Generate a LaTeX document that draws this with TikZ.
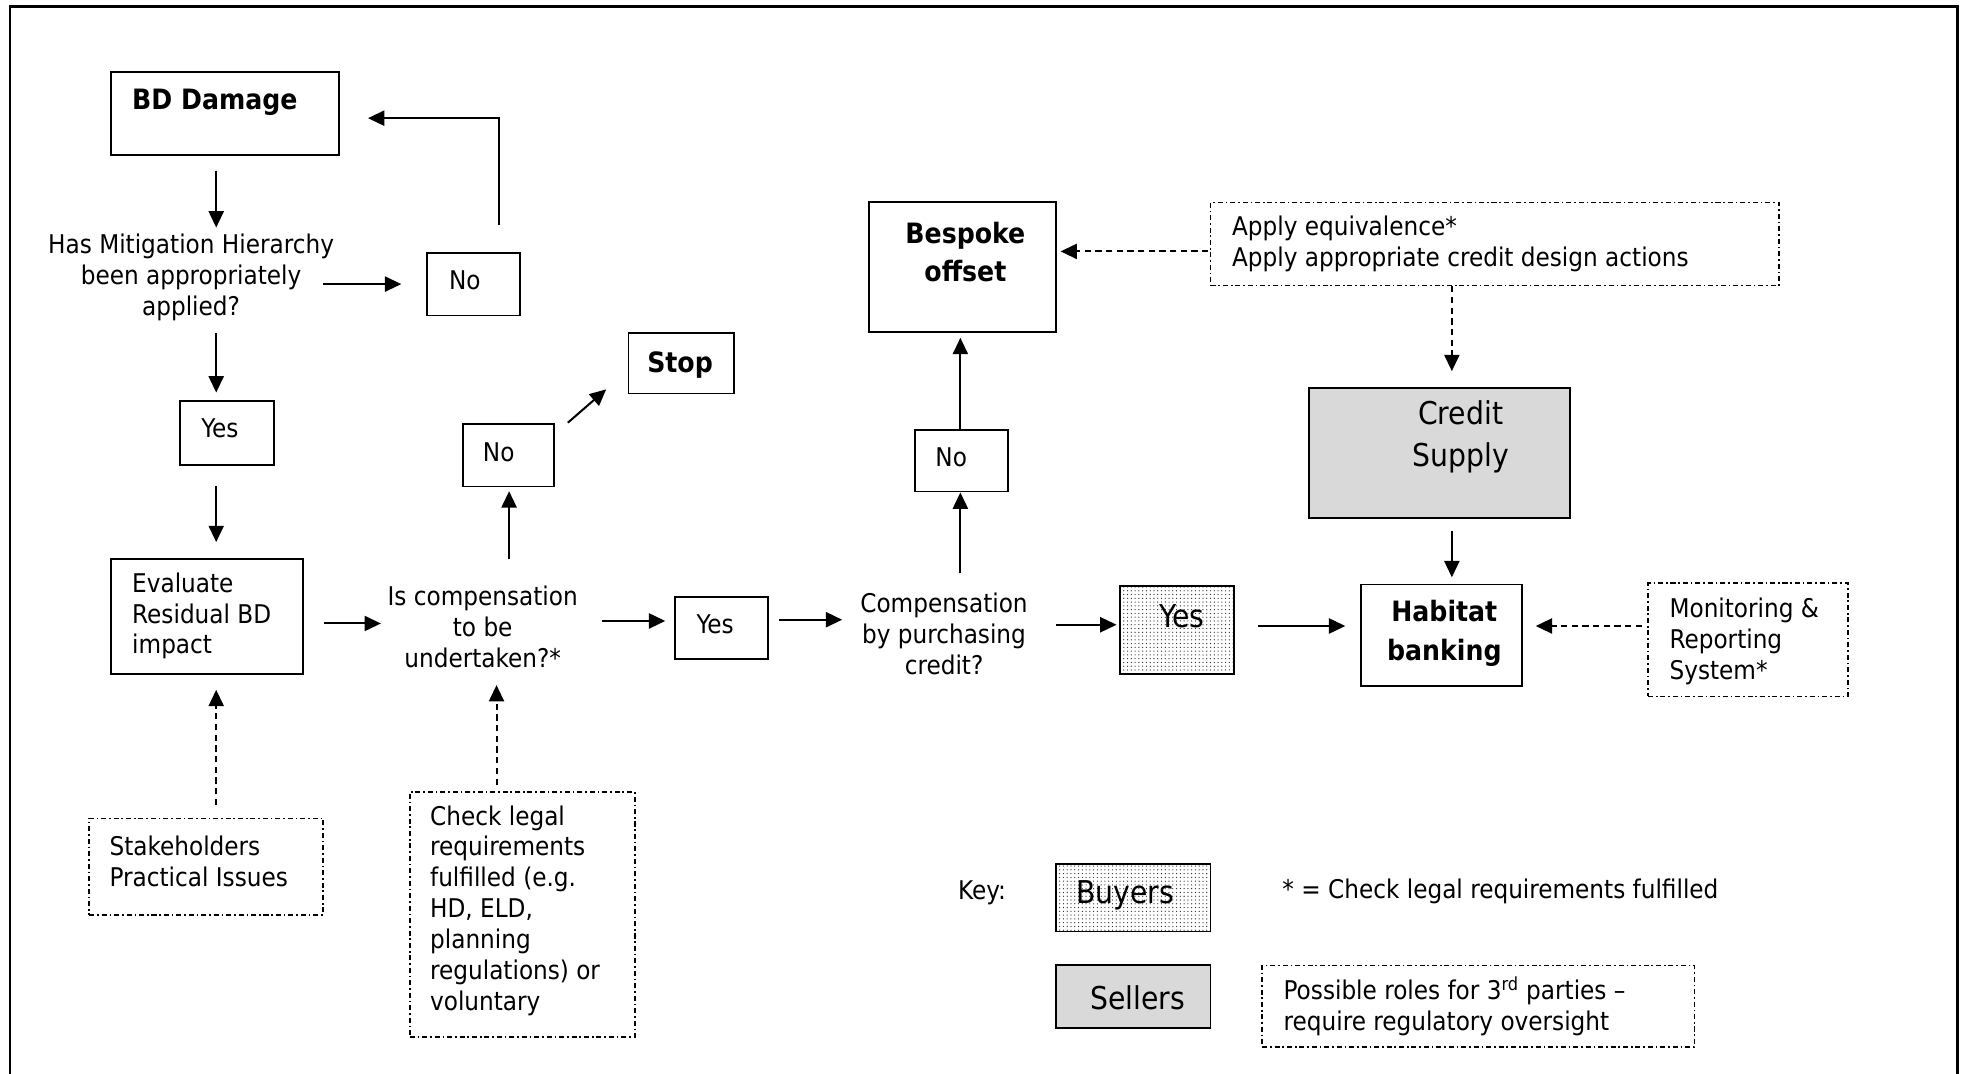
\documentclass[tikz,border=0pt]{standalone}
\usepackage{fontspec}
\setmainfont{DejaVu Sans Condensed}
\usetikzlibrary{arrows.meta,patterns,calc}
\begin{document}
\begin{tikzpicture}[x=1pt,y=-1pt,
  every node/.style={font=\fontsize{20.5}{24.6}\selectfont, inner sep=0pt},
  box/.style={draw, line width=1.5pt, rectangle},
  ddbox/.style={draw, line width=1.3pt, rectangle, dash pattern=on 4pt off 2.3pt on 1.3pt off 2.3pt},
  seller/.style={box, fill=black!15},
  buyer/.style={box, pattern=dots, pattern color=black!85},
  arr/.style={line width=1.6pt, -{Triangle[length=13pt,width=12pt]}},
  darr/.style={arr, dash pattern=on 5pt off 3.5pt},
  big/.style={font=\fontsize{25}{33}\selectfont},
  bold/.style={font=\fontsize{22.3}{31}\selectfont\bfseries},
]
\useasboundingbox (0,0) rectangle (1568,854);
\draw[line width=2.2pt] (8,854) -- (8,5) -- (1557,5) -- (1557,854);

% boxes
\node[box, minimum width=182, minimum height=66] (bd) at (179,90) {};
\node[bold, anchor=west] (bdt) at (105,81) {BD Damage};
\node[align=center] (q1) at (152,221) {Has Mitigation Hierarchy\\been appropriately\\applied?};
\node[box, minimum width=74, minimum height=50] (nob1) at (377,226) {};
\node[anchor=west] (nobt1) at (357,223) {No};
\node[box, minimum width=75, minimum height=51] (yesb1) at (180.5,344.5) {};
\node[anchor=west] (yest1) at (160,341) {Yes};
\node[box, minimum width=153, minimum height=91] (evb) at (164.5,490.5) {};
\node[anchor=west, align=left] (evt) at (105,490) {Evaluate\\Residual BD\\impact};
\node[align=center] (q2) at (384,499) {Is compensation\\to be\\undertaken?*};
\node[box, minimum width=73, minimum height=50] (nob2) at (404.5,362) {};
\node[anchor=west] (nobt2) at (384,360) {No};
\node[box, minimum width=84, minimum height=48] (stopb) at (542,289) {};
\node[bold] (stopt) at (541,290) {Stop};
\node[box, minimum width=74, minimum height=49] (yesb2) at (574,499.5) {};
\node[anchor=west] (yest2) at (554,497) {Yes};
\node[align=center] (q3) at (751,504) {Compensation\\by purchasing\\credit?};
\node[box, minimum width=74, minimum height=49] (nob3) at (765,366.5) {};
\node[anchor=west] (nobt3) at (744,364) {No};
\node[box, minimum width=149, minimum height=103] (bespb) at (765.5,212.5) {};
\node[bold, align=center] (bespt) at (768,200.5) {Bespoke\\offset};
\node[ddbox, minimum width=452, minimum height=66] (applyb) at (1189,194) {};
\node[anchor=west, align=left] (applyt) at (980,194) {Apply equivalence*\\Apply appropriate credit design actions};
\node[seller, minimum width=208, minimum height=103] (creditb) at (1145,360.5) {};
\node[big, align=center] (creditt) at (1162,347.5) {Credit\\Supply};
\node[box, minimum width=128, minimum height=81] (habb) at (1147,505.5) {};
\node[bold, align=center] (habt) at (1149,503.5) {Habitat\\banking};
\node[ddbox, minimum width=159, minimum height=90] (monb) at (1390.5,509) {};
\node[anchor=west, align=left] (mont) at (1328,510.5) {Monitoring \&\\Reporting\\System*};
\node[buyer, minimum width=91, minimum height=70] (yesb3) at (936.5,501) {};
\node[big] (yest3) at (940,490) {Yes};
\node[ddbox, minimum width=186, minimum height=77] (stakeb) at (164,689.5) {};
\node[anchor=west, align=left] (staket) at (87,685.5) {Stakeholders\\Practical Issues};
\node[ddbox, minimum width=179, minimum height=195] (checkb) at (415.5,727.5) {};
\node[anchor=west, align=left] (checkt) at (342,724.5) {Check legal\\requirements\\fulfilled (e.g.\\HD, ELD,\\planning\\regulations) or\\voluntary};
% key
\node[anchor=west] (keyt) at (762,710) {Key:};
\node[buyer, minimum width=123, minimum height=54] (buyb) at (901.5,714) {};
\node[big] (buyt) at (895,712) {Buyers};
\node[anchor=west] (notet) at (1020,709) {* = Check legal requirements fulfilled};
\node[seller, minimum width=123, minimum height=50] (sellb) at (901.5,793) {};
\node[big] (sellt) at (905,794) {Sellers};
\node[ddbox, minimum width=344, minimum height=65] (possb) at (1176,800.5) {};
\node[anchor=west, align=left] (posst) at (1021,800.5) {Possible roles for 3\textsuperscript{rd} parties –\\require regulatory oversight};

% connectors
\draw[arr] ($(bd.south)+(-7,12)$) -- ($(q1.center)+(20,-40)$);
\draw[arr] ($(q1.center)+(20,44)$) -- ($(yesb1.north)+(-8.5,-6)$);
\draw[arr] ($(yesb1.south)+(-8.5,16)$) -- ($(evb.north)+(7.5,-13)$);
\draw[darr] ($(stakeb.north)+(8,-10)$) -- ($(evb.south)+(7.5,12)$);
\draw[arr] ($(q1.center)+(105,5)$) -- ($(nob1.west)+(-20,0)$);
\draw[arr] ($(nob1.north)+(20,-21)$) |- ($(bd.east)+(22,4)$);
\draw[arr] ($(evb.east)+(16,5.5)$) -- ($(q2.center)+(-81,-3)$);
\draw[arr] ($(q2.center)+(21,-54)$) -- ($(nob2.south)+(0.5,3)$);
\draw[arr] ($(nob2.north east)+(10,0)$) -- ($(stopb.south west)+(-17,-4)$);
\draw[arr] ($(q2.center)+(95,-5)$) -- ($(yesb2.west)+(-7,-5.5)$);
\draw[darr] ($(checkb.north)+(-20.5,-5)$) -- ($(q2.center)+(11,46)$);
\draw[arr] ($(yesb2.east)+(8,-6.5)$) -- ($(q3.center)+(-81,-11)$);
\draw[arr] ($(q3.center)+(13,-48)$) -- ($(nob3.south)+(-1,0)$);
\draw[arr] ($(nob3.north)+(-1,0)$) -- ($(bespb.south)+(-1.5,4)$);
\draw[arr] ($(q3.center)+(89,-7)$) -- ($(yesb3.west)+(-2,-4)$);
\draw[arr] ($(yesb3.east)+(18,-3)$) -- ($(habb.west)+(-12,-7.5)$);
\draw[darr] ($(applyb.west)+(-1,6)$) -- ($(bespb.east)+(3,-12.5)$);
\draw[darr] ($(applyb.south)+(-34,0)$) -- ($(creditb.north)+(10,-13)$);
\draw[arr] ($(creditb.south)+(10,10)$) -- ($(habb.north)+(8,-5)$);
\draw[darr] ($(monb.west)+(-4,-11)$) -- ($(habb.east)+(10,-7.5)$);
\end{tikzpicture}
\end{document}
